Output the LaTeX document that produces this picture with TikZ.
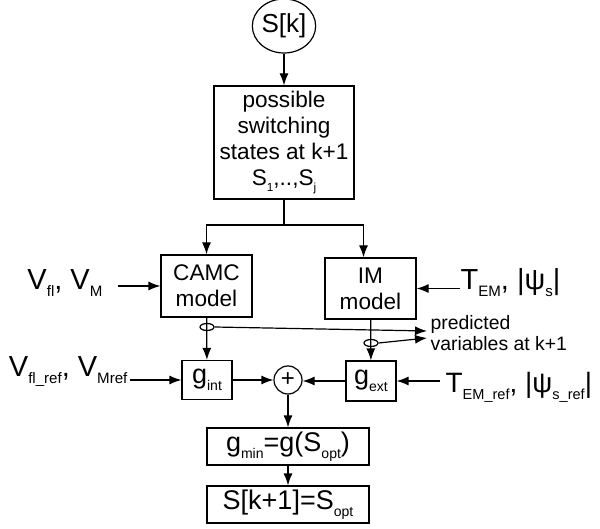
\documentclass[tikz,border=0pt]{standalone}
\usepackage{fontspec}
\setmainfont{Liberation Sans}
\usetikzlibrary{arrows.meta,shapes.geometric}
\newcommand{\lsub}[1]{\raisebox{-0.45ex}{\scalebox{0.52}{#1}}}

\begin{document}
\begin{tikzpicture}[x=0.5pt,y=-0.5pt,line width=0.6pt,
  box/.style={draw,inner sep=0pt,align=center,font=\fontsize{11.3}{13}\selectfont},
  bigbox/.style={box,font=\fontsize{13.5}{15}\selectfont},
  lbl/.style={inner sep=0pt,font=\fontsize{14.5}{16}\selectfont},
  tap/.style={draw,ellipse,minimum width=7pt,minimum height=3.5pt,inner sep=0pt},
  arr/.style={-{Latex[length=6pt,width=4.5pt]}}]
  \useasboundingbox (0,0) rectangle (600,529);
  % main chain
  \node[draw,ellipse,minimum width=30pt,minimum height=27pt,inner sep=0pt,font=\fontsize{13}{15}\selectfont] (sk) at (284,26) {S[k]};
  \node[box,minimum width=70pt,minimum height=56.5pt] (poss) at (284,142.5) {possible\\switching\\states at k+1\\S\lsub{1},..,S\lsub{j}};
  \node[box,minimum width=45.5pt,minimum height=31pt] (camc) at (206.5,286) {CAMC\\model};
  \node[box,minimum width=45.5pt,minimum height=30.5pt] (im) at (370.5,288.5) {IM\\model};
  \node[bigbox,minimum width=25pt,minimum height=19.5pt] (gint) at (207,380) {g\lsub{int}};
  \node[draw,circle,minimum size=14pt,inner sep=0pt,font=\fontsize{12}{14}\selectfont] (sum) at (288,380) {+};
  \node[bigbox,minimum width=25pt,minimum height=20pt] (gext) at (371,381) {g\lsub{ext}};
  \node[bigbox,minimum width=81pt,minimum height=18.5pt] (gmin) at (288,446.5) {g\lsub{min}=g(S\lsub{opt})};
  \node[bigbox,minimum width=81pt,minimum height=18.5pt] (snext) at (288,504.5) {S[k+1]=S\lsub{opt}};
  % inputs
  \node[lbl,anchor=base east,inner xsep=7.5pt] (vin) at (118,290) {V\lsub{fl}, V\lsub{M}};
  \node[lbl,anchor=base west] (tem) at (460,290) {T\lsub{EM}, |ψ\lsub{s}|};
  \node[lbl,anchor=base east,inner xsep=1pt] (vref) at (130,377) {V\lsub{fl\_ref}, V\lsub{Mref}};
  \node[lbl,anchor=base west,inner xsep=2.5pt,font=\fontsize{14}{16}\selectfont] (tref) at (440,393) {T\lsub{EM\_ref}, |ψ\lsub{s\_ref}|};
  \node[anchor=west,inner sep=0pt,align=left,font=\fontsize{9.7}{10.8}\selectfont] (pred) at (430,333) {predicted\\variables at k+1};
  % connectors
  \coordinate (j) at (284,225);\coordinate (p1) at (427,331);\coordinate (p2) at (427,338);
  \draw[arr] (sk) -- (poss);
  \draw (poss.south) -- (j);
  \draw[arr] (j) -| (camc.north);\draw[arr] (j) -| ([xshift=-3.5pt]im.north);
  \draw[arr] (vin.east|-camc.west) -- (camc.west);
  \draw[arr] (tem.west|-im.east) -- (im.east);
  \draw[arr] (camc) -- (gint);\draw[arr] (im) -- (gext);
  \node[tap] (t1) at (207,327) {};\node[tap] (t2) at (371,343) {};
  \draw[arr] (t1.east) -- (p1);\draw[arr] (t2.east) -- (p2);
  \draw[arr] (vref.east|-gint.west) -- (gint.west);
  \draw[arr] (tref.west|-gext.east) -- (gext.east);
  \draw[arr] (gint) -- (sum);\draw[arr] (gext.west) -- (gext.west-|sum.east);
  \draw[arr] (sum) -- (gmin);\draw[arr] (gmin) -- (snext);
\end{tikzpicture}
\end{document}
